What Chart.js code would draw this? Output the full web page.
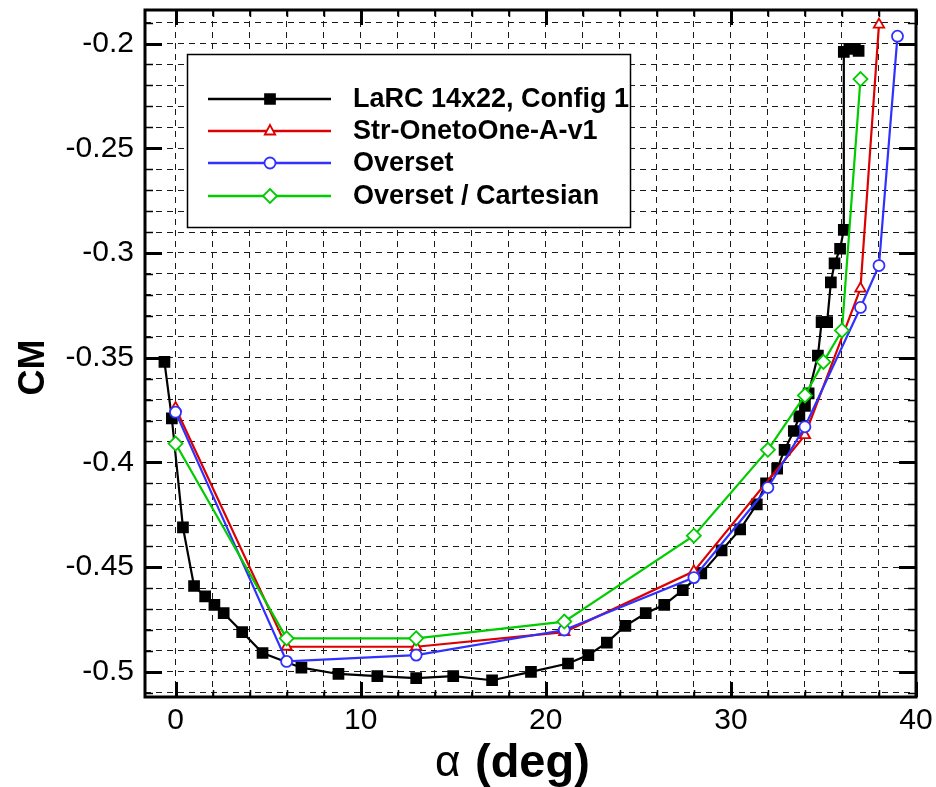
<!DOCTYPE html>
<html><head><meta charset="utf-8">
<script src="https://cdn.jsdelivr.net/npm/chart.js@4.4.1/dist/chart.umd.min.js"></script>
<style>html,body{margin:0;padding:0;background:#fff;}#wrap{width:936px;height:787px;position:relative;}</style>
</head><body><div id="wrap"><canvas id="c" width="936" height="787"></canvas></div>
<script>
// ---------- data ----------
const seriesNames = ['LaRC 14x22, Config 1', 'Str-OnetoOne-A-v1', 'Overset', 'Overset / Cartesian'];

const larcAlpha = [-0.6, -0.2, 0.4, 1.0, 1.6, 2.1, 2.6, 3.6, 4.7, 6.8, 8.8, 10.9, 13.0, 15.0, 17.1, 19.2, 21.2, 22.3, 23.3, 24.3, 25.4, 26.4, 27.4, 28.4, 29.5, 30.5, 31.4, 31.9, 32.5, 32.9, 33.4, 33.7, 34.0, 34.2, 34.7, 34.9, 35.2, 35.4, 35.6, 35.9, 36.1, 36.1, 36.4, 36.7, 36.9];
const larcCM    = [-0.352, -0.379, -0.431, -0.459, -0.464, -0.468, -0.472, -0.481, -0.491, -0.498, -0.501, -0.502, -0.503, -0.502, -0.504, -0.500, -0.496, -0.492, -0.486, -0.478, -0.472, -0.468, -0.461, -0.453, -0.442, -0.432, -0.420, -0.410, -0.403, -0.394, -0.385, -0.378, -0.373, -0.367, -0.349, -0.333, -0.333, -0.314, -0.305, -0.298, -0.289, -0.204, -0.2025, -0.2025, -0.2035];

const strAlpha = [0, 6, 13, 21, 28, 34, 37, 38];
const strCM    = [-0.374, -0.488, -0.488, -0.481, -0.452, -0.387, -0.317, -0.191];

const ovsAlpha = [0, 6, 13, 21, 28, 32, 34, 37, 38, 39];
const ovsCM    = [-0.376, -0.495, -0.492, -0.480, -0.455, -0.412, -0.383, -0.326, -0.306, -0.1965];

const cartAlpha = [0, 6, 13, 21, 28, 32, 34, 35, 36, 37];
const cartCM    = [-0.391, -0.484, -0.484, -0.476, -0.435, -0.394, -0.368, -0.352, -0.337, -0.217];

const xTickValues = [0, 10, 20, 30, 40];
const xTickLabels = ['0', '10', '20', '30', '40'];
const yTickValues = [-0.5, -0.45, -0.4, -0.35, -0.3, -0.25, -0.2];
const yTickLabels = ['-0.5', '-0.45', '-0.4', '-0.35', '-0.3', '-0.25', '-0.2'];
const xMinorStep = 2;     // degrees between grid lines
const yMinorStep = 0.01;  // CM between grid lines
const xTitleSymbol = 'α';
const xTitleUnit = '(deg)';
const yTitle = 'CM';

// ---------- helpers ----------
const FONT = '"Liberation Sans", Arial, Helvetica, sans-serif';
const pts = (xs, ys) => xs.map((v, i) => ({x: v, y: ys[i]}));
const near = (a, b) => Math.abs(a - b) < 1e-7;
const idxOf = (arr, v) => arr.findIndex(t => near(t, v));

const styles = [
  {color: '#000000', pointStyle: 'rect', radius: 7, fill: '#000000', lw: 2.2},
  {color: '#dd0000', pointStyle: 'triangle', radius: 6, fill: '#ffffff', lw: 2.2},
  {color: '#3030ff', pointStyle: 'circle', radius: 5.5, fill: '#ffffff', lw: 2.2},
  {color: '#00cc00', pointStyle: 'rectRot', radius: 7, fill: '#ffffff', lw: 2.2}
];
const dataArrays = [pts(larcAlpha, larcCM), pts(strAlpha, strCM), pts(ovsAlpha, ovsCM), pts(cartAlpha, cartCM)];
const orders = [4, 3, 2, 1];

const datasets = dataArrays.map((d, i) => ({
  label: seriesNames[i],
  data: d,
  showLine: true,
  borderColor: styles[i].color,
  borderWidth: styles[i].lw,
  backgroundColor: styles[i].fill,
  pointStyle: styles[i].pointStyle,
  pointRadius: styles[i].radius,
  pointHoverRadius: styles[i].radius,
  pointBorderColor: styles[i].color,
  pointBackgroundColor: styles[i].fill,
  pointBorderWidth: 1.8,
  tension: 0,
  order: orders[i]
}));

// ---------- plugins ----------
function drawMarker(ctx, st, x, y) {
  ctx.save();
  ctx.fillStyle = st.fill; ctx.strokeStyle = st.color; ctx.lineWidth = 1.8;
  const r = st.radius;
  ctx.beginPath();
  if (st.pointStyle === 'rect') {
    const s = r * Math.SQRT1_2; ctx.rect(x - s, y - s, 2 * s, 2 * s);
  } else if (st.pointStyle === 'triangle') {
    ctx.moveTo(x, y - r); ctx.lineTo(x + r * 0.866, y + r * 0.5 + 0.5); ctx.lineTo(x - r * 0.866, y + r * 0.5 + 0.5); ctx.closePath();
  } else if (st.pointStyle === 'circle') {
    ctx.arc(x, y, r, 0, Math.PI * 2);
  } else {
    ctx.moveTo(x, y - r); ctx.lineTo(x + r, y); ctx.lineTo(x, y + r); ctx.lineTo(x - r, y); ctx.closePath();
  }
  ctx.fill(); ctx.stroke();
  ctx.restore();
}

const framePlugin = {
  id: 'frame',
  afterDatasetsDraw(chart) {
    const {ctx, chartArea: a, scales: {x, y}} = chart;
    ctx.save();
    ctx.strokeStyle = '#000';
    ctx.lineCap = 'butt';
    x.ticks.forEach(t => {
      const v = t.value;
      if (v < 0) return;
      const major = idxOf(xTickValues, v) >= 0;
      const len = major ? 15 : 7;
      ctx.lineWidth = major ? 3 : 1.5;
      const px = Math.round(x.getPixelForValue(v)) + 0.5;
      ctx.beginPath();
      ctx.moveTo(px, a.bottom); ctx.lineTo(px, a.bottom - len);
      ctx.moveTo(px, a.top); ctx.lineTo(px, a.top + len);
      ctx.stroke();
    });
    y.ticks.forEach(t => {
      const v = t.value;
      const major = idxOf(yTickValues, v) >= 0;
      const len = major ? 17 : 8;
      ctx.lineWidth = major ? 3 : 1.5;
      const py = Math.round(y.getPixelForValue(v)) + 0.5;
      ctx.beginPath();
      ctx.moveTo(a.left, py); ctx.lineTo(a.left + len, py);
      ctx.moveTo(a.right, py); ctx.lineTo(a.right - len, py);
      ctx.stroke();
    });
    ctx.lineWidth = 3;
    ctx.strokeRect(a.left, a.top, a.right - a.left, a.bottom - a.top);
    ctx.restore();
  },
  afterDraw(chart) {
    const ctx = chart.ctx;
    const a = chart.chartArea;
    ctx.save();
    // axis titles
    ctx.fillStyle = '#000';
    ctx.textBaseline = 'alphabetic'; ctx.textAlign = 'left';
    ctx.font = '44px ' + FONT;
    ctx.fillText(xTitleSymbol, 435, 776);
    ctx.font = 'bold 47px ' + FONT;
    ctx.fillText(xTitleUnit, 475, 777);
    ctx.save();
    ctx.translate(44, (a.top + a.bottom) / 2 + 14);
    ctx.rotate(-Math.PI / 2);
    ctx.font = 'bold 36px ' + FONT;
    ctx.textAlign = 'center';
    ctx.fillText(yTitle, 0, 0);
    ctx.restore();
    // legend box
    const bx = 187.5, by = 54.5, bw = 443, bh = 173;
    ctx.fillStyle = '#fff';
    ctx.fillRect(bx, by, bw, bh);
    ctx.strokeStyle = '#000'; ctx.lineWidth = 1.5;
    ctx.strokeRect(bx, by, bw, bh);
    const rowY = [99, 131, 163, 196];
    chart.data.datasets.forEach((ds, i) => {
      const st = styles[i];
      const ry = rowY[i];
      ctx.strokeStyle = st.color; ctx.lineWidth = 2.5;
      ctx.beginPath(); ctx.moveTo(208, ry); ctx.lineTo(331, ry); ctx.stroke();
      drawMarker(ctx, st, 270, ry);
      ctx.fillStyle = '#000';
      ctx.font = 'bold 27px ' + FONT;
      ctx.textBaseline = 'middle'; ctx.textAlign = 'left';
      ctx.fillText(ds.label, 353, ry + 1);
    });
    ctx.restore();
  }
};

// ---------- chart ----------
Chart.defaults.font.family = FONT;
Chart.defaults.color = '#000';

new Chart(document.getElementById('c'), {
  type: 'scatter',
  data: {datasets},
  options: {
    responsive: false,
    animation: false,
    devicePixelRatio: 1,
    layout: {padding: {top: 10, right: 20, left: 0, bottom: 0}},
    plugins: {legend: {display: false}, tooltip: {enabled: false}},
    scales: {
      x: {
        type: 'linear', min: -1.65, max: 40,
        afterBuildTicks: (s) => {
          const arr = [];
          for (let k = 0; k * xMinorStep <= 40 + 1e-9; k++) arr.push({value: k * xMinorStep});
          s.ticks = arr;
        },
        afterFit: (s) => { s.height = 90; s.paddingLeft = 0; s.paddingRight = 0; },
        grid: {color: '#1a1a1a', lineWidth: 1, drawTicks: false},
        border: {display: false, dash: [6, 5]},
        ticks: {
          autoSkip: false, maxRotation: 0, padding: 6,
          font: {size: 30, family: FONT},
          callback: (v) => { const i = idxOf(xTickValues, v); return i >= 0 ? xTickLabels[i] : ''; }
        },
        title: {display: false}
      },
      y: {
        type: 'linear', min: -0.512, max: -0.184,
        afterBuildTicks: (s) => {
          const arr = [];
          for (let k = 51; k >= 19; k--) arr.push({value: -Math.round(k) * yMinorStep});
          s.ticks = arr;
        },
        afterFit: (s) => { s.width = 145; s.paddingTop = 0; s.paddingBottom = 0; },
        grid: {color: '#1a1a1a', lineWidth: 1, drawTicks: false},
        border: {display: false, dash: [6, 5]},
        ticks: {
          autoSkip: false, padding: 11,
          font: {size: 30, family: FONT},
          callback: (v) => { const i = idxOf(yTickValues, v); return i >= 0 ? yTickLabels[i] : ''; }
        },
        title: {display: false}
      }
    }
  },
  plugins: [framePlugin]
});
</script>
</body></html>
